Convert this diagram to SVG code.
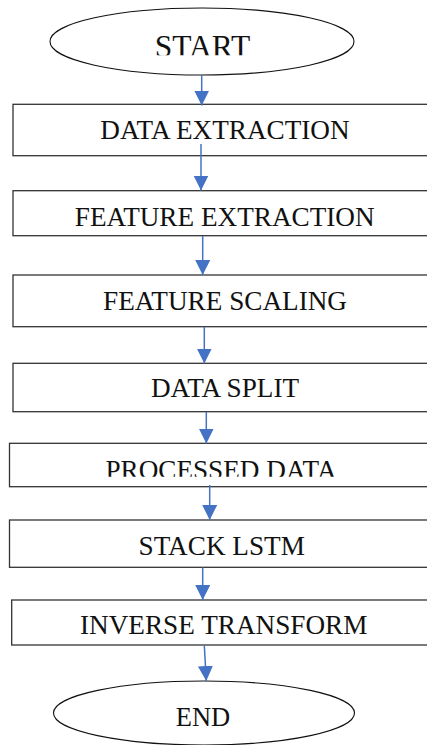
<svg xmlns="http://www.w3.org/2000/svg" width="427" height="745" viewBox="0 0 427 745">
  <style>
    .box { fill: #ffffff; stroke: #333333; stroke-width: 1.3; }
    .term { fill: #ffffff; stroke: #111111; stroke-width: 1.1; }
    .lbl { font-family: "Liberation Serif", "Times New Roman", serif; font-size: 27.2px; fill: #111111; text-anchor: middle; }
    .flow { stroke: #4472C4; stroke-width: 1.5; fill: none; marker-end: url(#head); }
  </style>
  <defs>
    <marker id="head" markerUnits="userSpaceOnUse" markerWidth="16" markerHeight="16" refX="15" refY="7.5" orient="auto">
      <path d="M0,0 L15,7.5 L0,15 z" fill="#4472C4"/>
    </marker>
    <clipPath id="clipStart"><rect x="0" y="0" width="427" height="55.3"/></clipPath>
    <clipPath id="clipProc"><rect x="0" y="440" width="427" height="36.8"/></clipPath>
  </defs>

  <rect width="427" height="745" fill="#ffffff"/>

  <g id="start">
    <ellipse class="term" cx="202" cy="41.5" rx="152" ry="33.5"/>
    <text class="lbl" x="202.5" y="56.5" style="font-size:31.5px" clip-path="url(#clipStart)">START</text>
  </g>

  <g id="data-extraction">
    <rect class="box" x="13" y="104.3" width="430" height="51.4"/>
    <text class="lbl" x="225" y="139.3">DATA EXTRACTION</text>
  </g>

  <g id="feature-extraction">
    <rect class="box" x="13" y="190.7" width="430" height="45"/>
    <text class="lbl" x="224.7" y="225.7">FEATURE EXTRACTION</text>
  </g>

  <g id="feature-scaling">
    <rect class="box" x="13" y="275" width="430" height="51.7"/>
    <text class="lbl" x="225" y="310">FEATURE SCALING</text>
  </g>

  <g id="data-split">
    <rect class="box" x="13" y="363.3" width="430" height="48.4"/>
    <text class="lbl" x="225" y="397.3">DATA SPLIT</text>
  </g>

  <g id="processed-data">
    <rect class="box" x="9.5" y="443.3" width="430" height="43.4"/>
    <text class="lbl" x="221" y="478.5" clip-path="url(#clipProc)">PROCESSED DATA</text>
  </g>

  <g id="stack-lstm">
    <rect class="box" x="9.5" y="520" width="430" height="47.3"/>
    <text class="lbl" x="221.7" y="555">STACK LSTM</text>
  </g>

  <g id="inverse-transform">
    <rect class="box" x="11.7" y="600" width="430" height="45"/>
    <text class="lbl" x="223.7" y="634.3">INVERSE TRANSFORM</text>
  </g>

  <g id="end">
    <ellipse class="term" cx="204" cy="713" rx="150.5" ry="32"/>
    <text class="lbl" x="203" y="726" style="font-size:26.5px">END</text>
  </g>

  <g id="connectors">
    <line class="flow" x1="201.7" y1="75" x2="201.7" y2="105.5"/>
    <line class="flow" x1="201" y1="144" x2="201" y2="190.5"/>
    <line class="flow" x1="202.7" y1="236" x2="202.7" y2="275"/>
    <line class="flow" x1="204.3" y1="327" x2="204.3" y2="363.5"/>
    <line class="flow" x1="206.3" y1="412" x2="206.3" y2="443.5"/>
    <line class="flow" x1="209.7" y1="485" x2="209.7" y2="520"/>
    <line class="flow" x1="202.7" y1="567.5" x2="202.7" y2="600"/>
    <line class="flow" x1="204.3" y1="645.5" x2="206.3" y2="681"/>
  </g>
</svg>
